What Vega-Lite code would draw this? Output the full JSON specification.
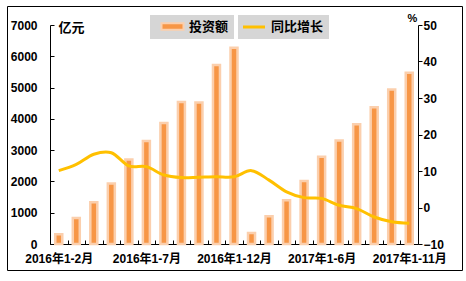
{
  "$schema": "https://vega.github.io/schema/vega-lite/v6.json",
  "width": 455,
  "height": 264,
  "autosize": {"type": "none"},
  "padding": {"left": 7, "top": 6, "right": 4, "bottom": 11},
  "background": "white",
  "config": {
    "view": {"stroke": "#000", "strokeWidth": 1},
    "font": "Liberation Sans, Noto Sans CJK SC",
    "axis": {
      "labelFont": "Liberation Sans, Noto Sans CJK SC",
      "labelFontWeight": "bold",
      "labelFontSize": 12,
      "labelColor": "#000",
      "domainColor": "#000",
      "tickColor": "#000",
      "grid": false,
      "titleFont": "Liberation Sans, Noto Sans CJK SC",
      "titleColor": "#000"
    },
    "legend": {
      "labelFont": "Liberation Sans, Noto Sans CJK SC",
      "labelFontWeight": "bold",
      "labelFontSize": 13,
      "labelColor": "#000"
    }
  },
  "data": {
    "values": [
      {"month": "2016年1-2月", "invest": 310, "growth": 10.1},
      {"month": "2016年1-3月", "invest": 835, "growth": 11.8},
      {"month": "2016年1-4月", "invest": 1336, "growth": 14.6},
      {"month": "2016年1-5月", "invest": 1935, "growth": 15.0},
      {"month": "2016年1-6月", "invest": 2700, "growth": 11.4},
      {"month": "2016年1-7月", "invest": 3290, "growth": 11.2},
      {"month": "2016年1-8月", "invest": 3870, "growth": 8.9},
      {"month": "2016年1-9月", "invest": 4535, "growth": 8.2},
      {"month": "2016年1-10月", "invest": 4520, "growth": 8.3},
      {"month": "2016年1-11月", "invest": 5720, "growth": 8.4},
      {"month": "2016年1-12月", "invest": 6270, "growth": 8.4},
      {"month": "2017年1-2月", "invest": 355, "growth": 10.1},
      {"month": "2017年1-3月", "invest": 890, "growth": 7.5},
      {"month": "2017年1-4月", "invest": 1400, "growth": 4.3},
      {"month": "2017年1-5月", "invest": 2010, "growth": 2.7},
      {"month": "2017年1-6月", "invest": 2785, "growth": 2.5},
      {"month": "2017年1-7月", "invest": 3310, "growth": 0.6},
      {"month": "2017年1-8月", "invest": 3830, "growth": -0.3},
      {"month": "2017年1-9月", "invest": 4375, "growth": -2.6},
      {"month": "2017年1-10月", "invest": 4940, "growth": -3.9},
      {"month": "2017年1-11月", "invest": 5475, "growth": -4.3}
    ]
  },
  "encoding": {
    "x": {
      "field": "month",
      "type": "nominal",
      "sort": null,
      "scale": {"range": [43, 411], "paddingInner": 0, "paddingOuter": 0},
      "axis": {
        "title": null,
        "offset": -26,
        "tickBand": "extent",
        "tickSize": -4,
        "labelPadding": 13,
        "labelAngle": 0,
        "labelOverlap": false,
        "labelExpr": "indexof(['2016年1-2月','2016年1-7月','2016年1-12月','2017年1-6月','2017年1-11月'], datum.value) >= 0 ? datum.value : ''"
      }
    }
  },
  "layer": [
    {
      "mark": {"type": "bar", "size": 7, "stroke": "#FBCFAD", "strokeWidth": 2.5},
      "encoding": {
        "y": {
          "field": "invest",
          "type": "quantitative",
          "scale": {"domain": [0, 7000], "range": [238, 19], "nice": false},
          "axis": {
            "offset": -43,
            "values": [0, 1000, 2000, 3000, 4000, 5000, 6000, 7000],
            "format": "d",
            "tickSize": -4,
            "labelPadding": 17,
            "title": "亿元",
            "titleAngle": 0,
            "titleX": 8,
            "titleY": 21,
            "titleAlign": "left",
            "titleBaseline": "middle",
            "titleFontSize": 13,
            "titleFontWeight": "bold"
          }
        },
        "fill": {
          "datum": "投资额",
          "type": "nominal",
          "scale": {"range": ["#F79646"]},
          "legend": {
            "orient": "none",
            "legendX": 143,
            "legendY": 9,
            "title": null,
            "fillColor": "#D6D6D6",
            "padding": 5,
            "symbolType": "M-2,-0.6H2V0.6H-2Z",
            "symbolSize": 121,
            "symbolStrokeColor": "#FBCFAD",
            "symbolStrokeWidth": 2,
            "symbolOffset": 11,
            "labelOffset": 10
          }
        }
      }
    },
    {
      "mark": {"type": "line", "interpolate": "cardinal", "strokeWidth": 3},
      "encoding": {
        "y": {
          "field": "growth",
          "type": "quantitative",
          "scale": {"domain": [-10, 50], "range": [238, 19], "nice": false, "zero": false},
          "axis": {
            "orient": "right",
            "offset": -44,
            "values": [-10, 0, 10, 20, 30, 40, 50],
            "tickSize": 4,
            "labelPadding": 1,
            "title": "%",
            "titleAngle": 0,
            "titleX": -6,
            "titleY": 12,
            "titleAlign": "center",
            "titleBaseline": "middle",
            "titleFontSize": 11,
            "titleFontWeight": "bold"
          }
        },
        "stroke": {
          "datum": "同比增长",
          "type": "nominal",
          "scale": {"range": ["#FFC000"]},
          "legend": {
            "orient": "none",
            "legendX": 231,
            "legendY": 9,
            "title": null,
            "fillColor": "#D6D6D6",
            "padding": 5,
            "symbolType": "M-2,0H2",
            "symbolSize": 121,
            "symbolStrokeWidth": 3,
            "symbolOffset": 4,
            "labelOffset": 10
          }
        }
      }
    }
  ],
  "resolve": {"scale": {"y": "independent"}}
}
